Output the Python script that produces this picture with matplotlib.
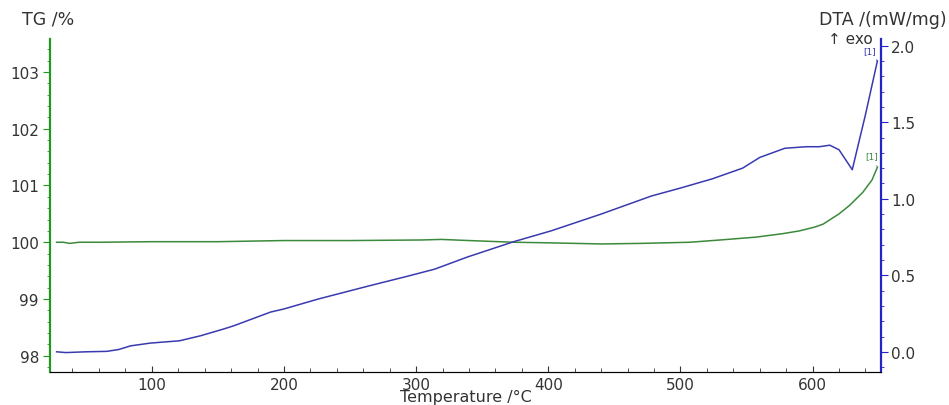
import numpy as np
import matplotlib.pyplot as plt
from matplotlib.ticker import MultipleLocator

plt.rcParams['font.family'] = ['DejaVu Sans']

# TG curve (left axis, %)
tg_temp = [28, 33, 38, 45, 60, 100, 150, 200, 250, 304, 319, 340, 374, 400,
           440, 470, 507, 530, 557, 577, 590, 602, 608, 620, 628, 638, 645, 649]
tg_val = [100.0, 100.0, 99.98, 100.0, 100.0, 100.01, 100.01, 100.03, 100.03, 100.04,
          100.05, 100.03, 100.0, 99.99, 99.97, 99.98, 100.0, 100.04, 100.09, 100.15,
          100.2, 100.27, 100.32, 100.5, 100.65, 100.88, 101.1, 101.32]

# DTA curve (right axis, mW/mg)
dta_temp = [28, 35, 50, 66, 75, 84, 99, 121, 137, 154, 162, 190, 200, 226, 264,
            294, 314, 339, 374, 402, 440, 478, 500, 524, 547, 560, 579, 595, 605,
            613, 620, 630, 640, 649]
dta_val = [0.0, -0.005, 0.0, 0.003, 0.015, 0.039, 0.057, 0.072, 0.105, 0.148, 0.17,
           0.26, 0.28, 0.345, 0.43, 0.495, 0.54, 0.62, 0.72, 0.79, 0.9, 1.018, 1.07,
           1.13, 1.2, 1.27, 1.33, 1.34, 1.34, 1.35, 1.32, 1.19, 1.55, 1.9]

green = '#3b8a3b'
blue = '#3a3ab0'
txt = '#333333'
fs = 11

fig = plt.figure(figsize=(9.49, 4.06), dpi=100)
ax = fig.add_axes([0.0527, 0.082, 0.876, 0.8195])
ax2 = ax.twinx()

ax.plot(tg_temp, tg_val, color=green, lw=1.1)
ax2.plot(dta_temp, dta_val, color=blue, lw=1.1)

ax.set_xlim(23, 652)
ax.set_ylim(97.72, 103.58)
ax2.set_ylim(-0.13, 2.044)

ax.xaxis.set_major_locator(MultipleLocator(100))
ax.xaxis.set_minor_locator(MultipleLocator(20))
ax.yaxis.set_major_locator(MultipleLocator(1))
ax.yaxis.set_minor_locator(MultipleLocator(0.2))
ax2.yaxis.set_major_locator(MultipleLocator(0.5))
ax2.yaxis.set_minor_locator(MultipleLocator(0.1))
ax2.yaxis.set_major_formatter(plt.FormatStrFormatter('%.1f'))

for a in (ax, ax2):
    a.spines['top'].set_visible(False)
ax.spines['left'].set_color('#1f9a1f')
ax.spines['left'].set_linewidth(1.6)
ax2.spines['left'].set_visible(False)
ax2.spines['right'].set_color('#2323c8')
ax2.spines['right'].set_linewidth(1.6)
ax.spines['bottom'].set_color(txt)
ax.spines['right'].set_visible(False)

ax.tick_params(axis='x', which='major', direction='in', length=4, labelsize=fs,
               colors=txt, pad=3.5)
ax.tick_params(axis='x', which='minor', direction='in', length=3, colors=txt)
ax.tick_params(axis='y', which='major', length=5, labelsize=fs, color='#1f9a1f',
               labelcolor=txt, pad=3)
ax.tick_params(axis='y', which='minor', length=2.5, color='#1f9a1f')
ax2.tick_params(axis='y', which='major', length=5, labelsize=fs, color='#2323c8',
                labelcolor=txt, pad=2)
ax2.tick_params(axis='y', which='minor', length=2.5, color='#2323c8')

# axis titles
fig.text(466 / 949, 0.5 / 406, 'Temperature /°C', fontsize=11.5, color=txt,
         ha='center', va='bottom')
fig.text(22 / 949, 1 - 19 / 406, 'TG /%', fontsize=12.5, color=txt, va='center')
fig.text(947 / 949, 1 - 20 / 406, 'DTA /(mW/mg)', fontsize=12.5, color=txt,
         ha='right', va='center')
fig.text(873 / 949, 1 - 39 / 406, '↑ exo', fontsize=fs, color=txt,
         ha='right', va='center')

ax2.annotate('[1]', xy=(649, 1.9), xytext=(643, 1.97), fontsize=6.5, color=blue,
             ha='center', va='center',
             arrowprops=dict(arrowstyle='-', color=blue, lw=0.6))
ax.annotate('[1]', xy=(649, 101.32), xytext=(645, 101.52), fontsize=6.5, color=green,
            ha='center', va='center',
            arrowprops=dict(arrowstyle='-', color=green, lw=0.6))

fig.savefig('out.png', dpi=100)
